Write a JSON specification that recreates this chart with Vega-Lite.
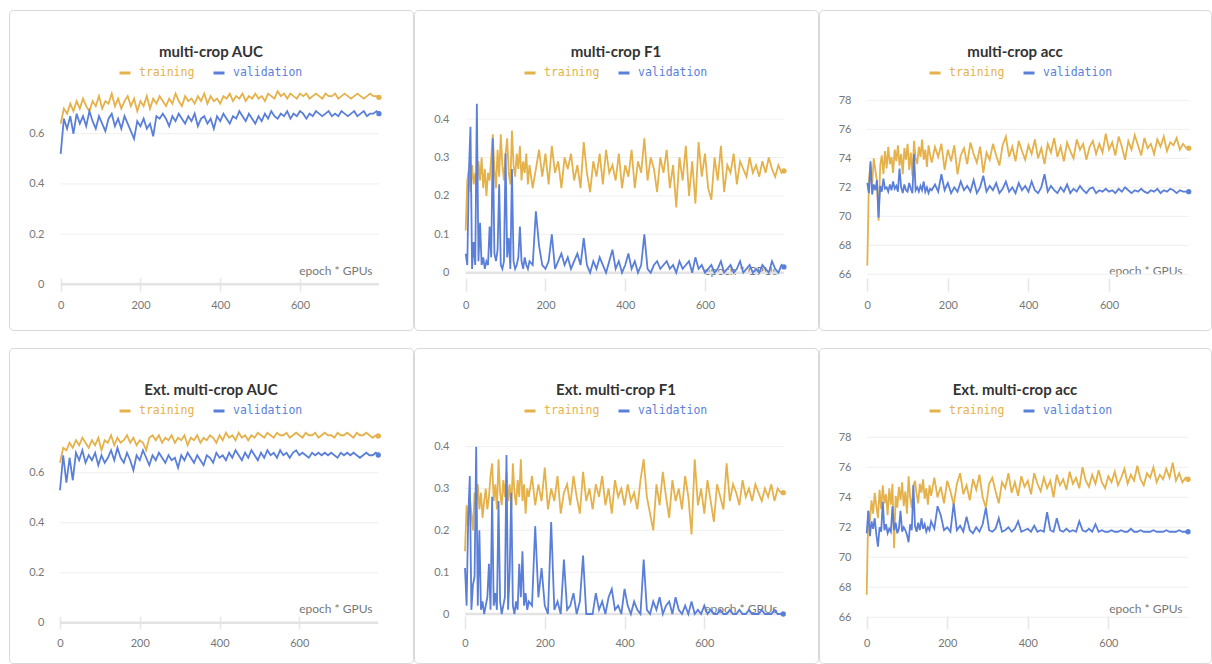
{
"$schema":"https://vega.github.io/schema/vega-lite/v6.json",
"background":"white",
"padding":{"left":8,"top":9,"right":0,"bottom":0},
"spacing":16,
"resolve":{"scale":{"color":"independent"}},
"config":{"font":"Lato","view":{"stroke":"#d9d9d9","strokeWidth":1,"cornerRadius":4},
 "axisX":{"domain":false,"grid":false,"tickSize":13,"tickColor":"#e6e6e6","tickWidth":1.5,"labelPadding":8,"labelColor":"#777777","labelFontSize":11,"labelFont":"Lato","labelFlush":false,"titleAlign":"right","titleBaseline":"bottom","titleFontWeight":"normal","titleFontSize":12,"titleColor":"#777777","titleFont":"Lato","titleX":363,"titleY":-1},
 "axisY":{"domain":false,"grid":false,"ticks":false,"tickSize":0,"labelPadding":5,"labelColor":"#777777","labelFontSize":11,"labelFont":"Lato"},
 "legend":{"orient":"none","legendX":109,"legendY":56,"direction":"horizontal","symbolType":"stroke","symbolSize":121,"symbolStrokeWidth":3,"labelFont":"DejaVu Sans Mono","labelFontSize":11.5,"labelOffset":7,"columnPadding":12}
},
"datasets":{
"auc1":[{"e":0,"t":0.64,"v":0.52},{"e":8,"t":0.70,"v":0.66},{"e":16,"t":0.68,"v":0.62},{"e":24,"t":0.72,"v":0.67},{"e":32,"t":0.69,"v":0.60},{"e":40,"t":0.73,"v":0.68},{"e":48,"t":0.70,"v":0.64},{"e":56,"t":0.74,"v":0.67},{"e":64,"t":0.71,"v":0.63},{"e":72,"t":0.69,"v":0.69},{"e":80,"t":0.73,"v":0.65},{"e":88,"t":0.71,"v":0.62},{"e":96,"t":0.75,"v":0.67},{"e":104,"t":0.70,"v":0.64},{"e":112,"t":0.73,"v":0.61},{"e":120,"t":0.72,"v":0.66},{"e":128,"t":0.76,"v":0.68},{"e":136,"t":0.71,"v":0.63},{"e":144,"t":0.74,"v":0.66},{"e":152,"t":0.70,"v":0.62},{"e":160,"t":0.73,"v":0.67},{"e":168,"t":0.75,"v":0.64},{"e":176,"t":0.71,"v":0.61},{"e":184,"t":0.74,"v":0.58},{"e":192,"t":0.69,"v":0.65},{"e":200,"t":0.73,"v":0.63},{"e":208,"t":0.71,"v":0.66},{"e":216,"t":0.75,"v":0.62},{"e":224,"t":0.70,"v":0.64},{"e":232,"t":0.74,"v":0.59},{"e":240,"t":0.72,"v":0.67},{"e":248,"t":0.75,"v":0.66},{"e":256,"t":0.73,"v":0.68},{"e":264,"t":0.71,"v":0.66},{"e":272,"t":0.74,"v":0.63},{"e":280,"t":0.72,"v":0.67},{"e":288,"t":0.76,"v":0.65},{"e":296,"t":0.73,"v":0.68},{"e":304,"t":0.71,"v":0.66},{"e":312,"t":0.75,"v":0.64},{"e":320,"t":0.73,"v":0.67},{"e":328,"t":0.74,"v":0.65},{"e":336,"t":0.72,"v":0.68},{"e":344,"t":0.75,"v":0.63},{"e":352,"t":0.73,"v":0.66},{"e":360,"t":0.76,"v":0.67},{"e":368,"t":0.72,"v":0.64},{"e":376,"t":0.75,"v":0.66},{"e":384,"t":0.73,"v":0.62},{"e":392,"t":0.74,"v":0.67},{"e":400,"t":0.72,"v":0.65},{"e":408,"t":0.75,"v":0.68},{"e":416,"t":0.74,"v":0.66},{"e":424,"t":0.76,"v":0.64},{"e":432,"t":0.73,"v":0.67},{"e":440,"t":0.75,"v":0.66},{"e":448,"t":0.74,"v":0.69},{"e":456,"t":0.76,"v":0.67},{"e":464,"t":0.73,"v":0.65},{"e":472,"t":0.75,"v":0.68},{"e":480,"t":0.74,"v":0.66},{"e":488,"t":0.76,"v":0.64},{"e":496,"t":0.74,"v":0.67},{"e":504,"t":0.75,"v":0.65},{"e":512,"t":0.73,"v":0.68},{"e":520,"t":0.76,"v":0.66},{"e":528,"t":0.75,"v":0.69},{"e":536,"t":0.74,"v":0.67},{"e":544,"t":0.77,"v":0.66},{"e":552,"t":0.75,"v":0.68},{"e":560,"t":0.76,"v":0.67},{"e":568,"t":0.74,"v":0.69},{"e":576,"t":0.76,"v":0.66},{"e":584,"t":0.75,"v":0.68},{"e":592,"t":0.74,"v":0.67},{"e":600,"t":0.76,"v":0.69},{"e":608,"t":0.75,"v":0.68},{"e":616,"t":0.76,"v":0.66},{"e":624,"t":0.74,"v":0.68},{"e":632,"t":0.75,"v":0.67},{"e":640,"t":0.76,"v":0.69},{"e":648,"t":0.75,"v":0.68},{"e":656,"t":0.74,"v":0.67},{"e":664,"t":0.76,"v":0.68},{"e":672,"t":0.75,"v":0.69},{"e":680,"t":0.75,"v":0.67},{"e":688,"t":0.76,"v":0.68},{"e":696,"t":0.74,"v":0.67},{"e":704,"t":0.75,"v":0.69},{"e":712,"t":0.76,"v":0.68},{"e":720,"t":0.75,"v":0.67},{"e":728,"t":0.74,"v":0.68},{"e":736,"t":0.75,"v":0.69},{"e":744,"t":0.76,"v":0.67},{"e":752,"t":0.75,"v":0.68},{"e":760,"t":0.74,"v":0.69},{"e":768,"t":0.75,"v":0.67},{"e":776,"t":0.76,"v":0.68},{"e":784,"t":0.75,"v":0.68},{"e":792,"t":0.75,"v":0.69},{"e":798,"t":0.745,"v":0.68}],
"f11":[{"e":0,"t":0.11,"v":0.05},{"e":4,"t":0.24,"v":0.02},{"e":8,"t":0.27,"v":0.26},{"e":12,"t":0.21,"v":0.38},{"e":16,"t":0.28,"v":0.01},{"e":20,"t":0.23,"v":0.08},{"e":24,"t":0.26,"v":0.02},{"e":28,"t":0.21,"v":0.44},{"e":32,"t":0.29,"v":0.03},{"e":36,"t":0.24,"v":0.13},{"e":40,"t":0.30,"v":0.02},{"e":44,"t":0.22,"v":0.04},{"e":48,"t":0.27,"v":0.01},{"e":52,"t":0.20,"v":0.03},{"e":56,"t":0.26,"v":0.02},{"e":60,"t":0.24,"v":0.12},{"e":64,"t":0.30,"v":0.04},{"e":68,"t":0.36,"v":0.35},{"e":72,"t":0.27,"v":0.05},{"e":76,"t":0.22,"v":0.03},{"e":80,"t":0.32,"v":0.06},{"e":84,"t":0.25,"v":0.23},{"e":88,"t":0.36,"v":0.02},{"e":92,"t":0.28,"v":0.01},{"e":96,"t":0.24,"v":0.03},{"e":100,"t":0.31,"v":0.31},{"e":104,"t":0.35,"v":0.04},{"e":108,"t":0.26,"v":0.09},{"e":112,"t":0.23,"v":0.01},{"e":116,"t":0.37,"v":0.27},{"e":120,"t":0.28,"v":0.03},{"e":124,"t":0.25,"v":0.01},{"e":128,"t":0.31,"v":0.02},{"e":132,"t":0.27,"v":0.04},{"e":136,"t":0.33,"v":0.12},{"e":140,"t":0.24,"v":0.03},{"e":144,"t":0.29,"v":0.01},{"e":148,"t":0.26,"v":0.04},{"e":152,"t":0.31,"v":0.02},{"e":156,"t":0.23,"v":0.01},{"e":160,"t":0.28,"v":0.03},{"e":168,"t":0.22,"v":0.02},{"e":176,"t":0.27,"v":0.16},{"e":184,"t":0.32,"v":0.07},{"e":192,"t":0.25,"v":0.02},{"e":200,"t":0.31,"v":0.01},{"e":208,"t":0.23,"v":0.03},{"e":216,"t":0.33,"v":0.10},{"e":224,"t":0.26,"v":0.01},{"e":232,"t":0.29,"v":0.03},{"e":240,"t":0.22,"v":0.05},{"e":248,"t":0.30,"v":0.02},{"e":256,"t":0.27,"v":0.04},{"e":264,"t":0.31,"v":0.01},{"e":272,"t":0.24,"v":0.03},{"e":280,"t":0.28,"v":0.05},{"e":288,"t":0.22,"v":0.02},{"e":296,"t":0.34,"v":0.09},{"e":304,"t":0.26,"v":0.02},{"e":312,"t":0.21,"v":0.00},{"e":320,"t":0.29,"v":0.03},{"e":328,"t":0.25,"v":0.01},{"e":336,"t":0.31,"v":0.04},{"e":344,"t":0.23,"v":0.02},{"e":352,"t":0.32,"v":0.00},{"e":360,"t":0.26,"v":0.03},{"e":368,"t":0.28,"v":0.06},{"e":376,"t":0.24,"v":0.01},{"e":384,"t":0.31,"v":0.03},{"e":392,"t":0.22,"v":0.00},{"e":400,"t":0.28,"v":0.02},{"e":408,"t":0.25,"v":0.05},{"e":416,"t":0.32,"v":0.01},{"e":424,"t":0.22,"v":0.03},{"e":432,"t":0.29,"v":0.00},{"e":440,"t":0.26,"v":0.02},{"e":448,"t":0.35,"v":0.10},{"e":456,"t":0.24,"v":0.01},{"e":464,"t":0.30,"v":0.00},{"e":472,"t":0.27,"v":0.02},{"e":480,"t":0.21,"v":0.03},{"e":488,"t":0.30,"v":0.01},{"e":496,"t":0.26,"v":0.02},{"e":504,"t":0.32,"v":0.03},{"e":512,"t":0.22,"v":0.01},{"e":520,"t":0.28,"v":0.02},{"e":528,"t":0.17,"v":0.00},{"e":536,"t":0.30,"v":0.03},{"e":544,"t":0.24,"v":0.01},{"e":552,"t":0.33,"v":0.02},{"e":560,"t":0.20,"v":0.03},{"e":568,"t":0.29,"v":0.00},{"e":576,"t":0.18,"v":0.04},{"e":584,"t":0.34,"v":0.01},{"e":592,"t":0.25,"v":0.02},{"e":600,"t":0.31,"v":0.00},{"e":608,"t":0.22,"v":0.01},{"e":616,"t":0.19,"v":0.02},{"e":624,"t":0.30,"v":0.00},{"e":632,"t":0.24,"v":0.01},{"e":640,"t":0.33,"v":0.03},{"e":648,"t":0.21,"v":0.00},{"e":656,"t":0.28,"v":0.01},{"e":664,"t":0.26,"v":0.02},{"e":672,"t":0.31,"v":0.00},{"e":680,"t":0.23,"v":0.01},{"e":688,"t":0.29,"v":0.03},{"e":696,"t":0.27,"v":0.00},{"e":704,"t":0.25,"v":0.01},{"e":712,"t":0.30,"v":0.02},{"e":720,"t":0.26,"v":0.00},{"e":728,"t":0.28,"v":0.01},{"e":736,"t":0.25,"v":0.00},{"e":744,"t":0.29,"v":0.02},{"e":752,"t":0.26,"v":0.01},{"e":760,"t":0.30,"v":0.00},{"e":768,"t":0.27,"v":0.03},{"e":776,"t":0.25,"v":0.01},{"e":784,"t":0.28,"v":0.00},{"e":792,"t":0.26,"v":0.02},{"e":798,"t":0.265,"v":0.015}],
"acc1":[{"e":0,"t":66.6,"v":72.3},{"e":4,"t":72.5,"v":71.6},{"e":8,"t":73.6,"v":73.8},{"e":12,"t":72.1,"v":71.5},{"e":16,"t":74.0,"v":72.2},{"e":20,"t":73.2,"v":71.8},{"e":24,"t":72.4,"v":72.5},{"e":28,"t":69.7,"v":69.9},{"e":32,"t":73.5,"v":72.1},{"e":36,"t":74.2,"v":71.7},{"e":40,"t":72.9,"v":72.6},{"e":44,"t":74.5,"v":71.9},{"e":48,"t":73.3,"v":72.0},{"e":52,"t":74.8,"v":71.7},{"e":56,"t":73.6,"v":72.2},{"e":60,"t":74.1,"v":71.8},{"e":64,"t":73.0,"v":72.4},{"e":68,"t":74.6,"v":71.9},{"e":72,"t":73.8,"v":72.1},{"e":76,"t":74.9,"v":71.7},{"e":80,"t":73.5,"v":73.3},{"e":84,"t":74.3,"v":72.0},{"e":88,"t":72.9,"v":71.6},{"e":92,"t":74.7,"v":72.2},{"e":96,"t":73.9,"v":71.8},{"e":100,"t":75.0,"v":71.7},{"e":104,"t":73.2,"v":72.3},{"e":108,"t":74.4,"v":71.9},{"e":112,"t":72.8,"v":71.6},{"e":116,"t":75.2,"v":74.3},{"e":120,"t":74.0,"v":71.8},{"e":124,"t":73.6,"v":72.0},{"e":128,"t":74.8,"v":71.7},{"e":132,"t":74.1,"v":72.1},{"e":136,"t":75.3,"v":71.8},{"e":140,"t":73.9,"v":72.4},{"e":144,"t":74.6,"v":71.7},{"e":148,"t":73.4,"v":72.0},{"e":152,"t":74.9,"v":71.6},{"e":156,"t":74.2,"v":71.9},{"e":160,"t":73.7,"v":71.8},{"e":168,"t":74.8,"v":72.2},{"e":176,"t":74.1,"v":71.7},{"e":184,"t":75.0,"v":72.9},{"e":192,"t":73.2,"v":71.8},{"e":200,"t":74.6,"v":72.3},{"e":208,"t":73.8,"v":71.6},{"e":216,"t":74.9,"v":72.0},{"e":224,"t":72.9,"v":71.7},{"e":232,"t":74.2,"v":72.4},{"e":240,"t":74.7,"v":71.8},{"e":248,"t":73.6,"v":72.1},{"e":256,"t":75.1,"v":71.7},{"e":264,"t":74.3,"v":72.5},{"e":272,"t":73.7,"v":71.6},{"e":280,"t":74.8,"v":72.0},{"e":288,"t":73.0,"v":72.8},{"e":296,"t":74.4,"v":71.7},{"e":304,"t":73.9,"v":72.1},{"e":312,"t":75.0,"v":71.8},{"e":320,"t":74.2,"v":72.3},{"e":328,"t":73.5,"v":71.6},{"e":336,"t":74.9,"v":71.9},{"e":344,"t":75.5,"v":72.4},{"e":352,"t":74.1,"v":71.7},{"e":360,"t":74.8,"v":72.0},{"e":368,"t":73.8,"v":71.6},{"e":376,"t":75.2,"v":72.3},{"e":384,"t":74.5,"v":71.8},{"e":392,"t":73.9,"v":72.1},{"e":400,"t":74.9,"v":71.7},{"e":408,"t":74.3,"v":72.4},{"e":416,"t":75.3,"v":71.8},{"e":424,"t":74.0,"v":71.6},{"e":432,"t":74.7,"v":72.0},{"e":440,"t":73.6,"v":72.9},{"e":448,"t":75.0,"v":71.7},{"e":456,"t":74.4,"v":72.1},{"e":464,"t":75.4,"v":71.8},{"e":472,"t":74.1,"v":71.6},{"e":480,"t":74.8,"v":72.0},{"e":488,"t":73.8,"v":71.7},{"e":496,"t":75.1,"v":72.2},{"e":504,"t":74.5,"v":71.6},{"e":512,"t":74.0,"v":71.9},{"e":520,"t":75.3,"v":71.7},{"e":528,"t":74.6,"v":72.1},{"e":536,"t":75.0,"v":71.8},{"e":544,"t":73.9,"v":71.6},{"e":552,"t":74.8,"v":71.9},{"e":560,"t":75.2,"v":72.0},{"e":568,"t":74.3,"v":71.6},{"e":576,"t":75.0,"v":71.8},{"e":584,"t":74.4,"v":71.7},{"e":592,"t":75.7,"v":71.9},{"e":600,"t":74.6,"v":71.7},{"e":608,"t":75.1,"v":71.8},{"e":616,"t":74.2,"v":71.6},{"e":624,"t":75.5,"v":71.9},{"e":632,"t":74.8,"v":71.7},{"e":640,"t":73.9,"v":72.0},{"e":648,"t":75.2,"v":71.8},{"e":656,"t":74.6,"v":71.6},{"e":664,"t":75.6,"v":71.8},{"e":672,"t":74.9,"v":71.7},{"e":680,"t":74.2,"v":71.9},{"e":688,"t":75.4,"v":71.7},{"e":696,"t":74.7,"v":71.6},{"e":704,"t":75.0,"v":71.8},{"e":712,"t":74.3,"v":71.7},{"e":720,"t":75.3,"v":71.9},{"e":728,"t":74.8,"v":71.6},{"e":736,"t":75.5,"v":71.8},{"e":744,"t":74.5,"v":71.7},{"e":752,"t":75.1,"v":71.9},{"e":760,"t":74.9,"v":71.8},{"e":768,"t":75.4,"v":71.6},{"e":776,"t":74.6,"v":71.8},{"e":784,"t":75.0,"v":71.7},{"e":792,"t":74.7,"v":71.7},{"e":798,"t":74.7,"v":71.7}],
"auc2":[{"e":0,"t":0.64,"v":0.53},{"e":8,"t":0.70,"v":0.67},{"e":16,"t":0.69,"v":0.56},{"e":24,"t":0.72,"v":0.66},{"e":32,"t":0.70,"v":0.57},{"e":40,"t":0.73,"v":0.68},{"e":48,"t":0.71,"v":0.65},{"e":56,"t":0.74,"v":0.69},{"e":64,"t":0.72,"v":0.64},{"e":72,"t":0.70,"v":0.67},{"e":80,"t":0.73,"v":0.65},{"e":88,"t":0.71,"v":0.68},{"e":96,"t":0.74,"v":0.63},{"e":104,"t":0.69,"v":0.67},{"e":112,"t":0.73,"v":0.64},{"e":120,"t":0.72,"v":0.66},{"e":128,"t":0.75,"v":0.69},{"e":136,"t":0.71,"v":0.65},{"e":144,"t":0.74,"v":0.70},{"e":152,"t":0.72,"v":0.66},{"e":160,"t":0.73,"v":0.64},{"e":168,"t":0.75,"v":0.68},{"e":176,"t":0.72,"v":0.65},{"e":184,"t":0.74,"v":0.61},{"e":192,"t":0.71,"v":0.67},{"e":200,"t":0.73,"v":0.65},{"e":208,"t":0.72,"v":0.69},{"e":216,"t":0.69,"v":0.66},{"e":224,"t":0.74,"v":0.63},{"e":232,"t":0.75,"v":0.67},{"e":240,"t":0.73,"v":0.65},{"e":248,"t":0.75,"v":0.68},{"e":256,"t":0.72,"v":0.66},{"e":264,"t":0.74,"v":0.64},{"e":272,"t":0.73,"v":0.67},{"e":280,"t":0.75,"v":0.65},{"e":288,"t":0.72,"v":0.66},{"e":296,"t":0.74,"v":0.62},{"e":304,"t":0.73,"v":0.67},{"e":312,"t":0.75,"v":0.65},{"e":320,"t":0.71,"v":0.68},{"e":328,"t":0.74,"v":0.66},{"e":336,"t":0.73,"v":0.64},{"e":344,"t":0.75,"v":0.67},{"e":352,"t":0.72,"v":0.65},{"e":360,"t":0.74,"v":0.63},{"e":368,"t":0.73,"v":0.67},{"e":376,"t":0.75,"v":0.66},{"e":384,"t":0.74,"v":0.64},{"e":392,"t":0.72,"v":0.68},{"e":400,"t":0.75,"v":0.66},{"e":408,"t":0.73,"v":0.67},{"e":416,"t":0.76,"v":0.65},{"e":424,"t":0.74,"v":0.68},{"e":432,"t":0.75,"v":0.66},{"e":440,"t":0.73,"v":0.69},{"e":448,"t":0.76,"v":0.67},{"e":456,"t":0.74,"v":0.65},{"e":464,"t":0.75,"v":0.68},{"e":472,"t":0.73,"v":0.66},{"e":480,"t":0.75,"v":0.69},{"e":488,"t":0.74,"v":0.67},{"e":496,"t":0.76,"v":0.65},{"e":504,"t":0.75,"v":0.68},{"e":512,"t":0.74,"v":0.66},{"e":520,"t":0.76,"v":0.69},{"e":528,"t":0.75,"v":0.67},{"e":536,"t":0.74,"v":0.68},{"e":544,"t":0.76,"v":0.66},{"e":552,"t":0.75,"v":0.69},{"e":560,"t":0.75,"v":0.67},{"e":568,"t":0.76,"v":0.68},{"e":576,"t":0.74,"v":0.66},{"e":584,"t":0.75,"v":0.68},{"e":592,"t":0.76,"v":0.69},{"e":600,"t":0.75,"v":0.67},{"e":608,"t":0.74,"v":0.68},{"e":616,"t":0.76,"v":0.67},{"e":624,"t":0.75,"v":0.66},{"e":632,"t":0.75,"v":0.68},{"e":640,"t":0.76,"v":0.67},{"e":648,"t":0.74,"v":0.68},{"e":656,"t":0.75,"v":0.67},{"e":664,"t":0.76,"v":0.68},{"e":672,"t":0.75,"v":0.67},{"e":680,"t":0.75,"v":0.68},{"e":688,"t":0.74,"v":0.67},{"e":696,"t":0.76,"v":0.66},{"e":704,"t":0.75,"v":0.68},{"e":712,"t":0.75,"v":0.67},{"e":720,"t":0.76,"v":0.68},{"e":728,"t":0.75,"v":0.67},{"e":736,"t":0.74,"v":0.68},{"e":744,"t":0.76,"v":0.67},{"e":752,"t":0.75,"v":0.66},{"e":760,"t":0.75,"v":0.67},{"e":768,"t":0.76,"v":0.68},{"e":776,"t":0.75,"v":0.67},{"e":784,"t":0.74,"v":0.67},{"e":792,"t":0.75,"v":0.68},{"e":798,"t":0.747,"v":0.671}],
"f12":[{"e":0,"t":0.15,"v":0.11},{"e":4,"t":0.26,"v":0.02},{"e":8,"t":0.21,"v":0.23},{"e":12,"t":0.28,"v":0.33},{"e":16,"t":0.24,"v":0.01},{"e":20,"t":0.20,"v":0.07},{"e":24,"t":0.29,"v":0.09},{"e":28,"t":0.26,"v":0.40},{"e":32,"t":0.31,"v":0.02},{"e":36,"t":0.25,"v":0.20},{"e":40,"t":0.29,"v":0.01},{"e":44,"t":0.23,"v":0.03},{"e":48,"t":0.27,"v":0.00},{"e":52,"t":0.30,"v":0.02},{"e":56,"t":0.25,"v":0.04},{"e":60,"t":0.28,"v":0.12},{"e":64,"t":0.33,"v":0.01},{"e":68,"t":0.36,"v":0.28},{"e":72,"t":0.27,"v":0.02},{"e":76,"t":0.31,"v":0.05},{"e":80,"t":0.25,"v":0.01},{"e":84,"t":0.37,"v":0.27},{"e":88,"t":0.29,"v":0.03},{"e":92,"t":0.26,"v":0.00},{"e":96,"t":0.32,"v":0.02},{"e":100,"t":0.28,"v":0.04},{"e":104,"t":0.34,"v":0.38},{"e":108,"t":0.27,"v":0.01},{"e":112,"t":0.31,"v":0.10},{"e":116,"t":0.25,"v":0.29},{"e":120,"t":0.36,"v":0.02},{"e":124,"t":0.29,"v":0.00},{"e":128,"t":0.26,"v":0.03},{"e":132,"t":0.32,"v":0.01},{"e":136,"t":0.28,"v":0.12},{"e":140,"t":0.37,"v":0.04},{"e":144,"t":0.27,"v":0.15},{"e":148,"t":0.31,"v":0.02},{"e":152,"t":0.24,"v":0.05},{"e":156,"t":0.30,"v":0.01},{"e":160,"t":0.28,"v":0.03},{"e":168,"t":0.33,"v":0.02},{"e":176,"t":0.26,"v":0.21},{"e":184,"t":0.31,"v":0.04},{"e":192,"t":0.27,"v":0.11},{"e":200,"t":0.35,"v":0.02},{"e":208,"t":0.25,"v":0.00},{"e":216,"t":0.30,"v":0.22},{"e":224,"t":0.27,"v":0.01},{"e":232,"t":0.33,"v":0.03},{"e":240,"t":0.24,"v":0.00},{"e":248,"t":0.29,"v":0.13},{"e":256,"t":0.31,"v":0.01},{"e":264,"t":0.26,"v":0.02},{"e":272,"t":0.33,"v":0.05},{"e":280,"t":0.28,"v":0.00},{"e":288,"t":0.24,"v":0.03},{"e":296,"t":0.34,"v":0.14},{"e":304,"t":0.27,"v":0.00},{"e":312,"t":0.30,"v":0.00},{"e":320,"t":0.25,"v":0.00},{"e":328,"t":0.31,"v":0.05},{"e":336,"t":0.28,"v":0.01},{"e":344,"t":0.33,"v":0.03},{"e":352,"t":0.26,"v":0.00},{"e":360,"t":0.30,"v":0.04},{"e":368,"t":0.24,"v":0.06},{"e":376,"t":0.32,"v":0.01},{"e":384,"t":0.28,"v":0.02},{"e":392,"t":0.30,"v":0.00},{"e":400,"t":0.26,"v":0.06},{"e":408,"t":0.31,"v":0.02},{"e":416,"t":0.27,"v":0.00},{"e":424,"t":0.29,"v":0.03},{"e":432,"t":0.25,"v":0.01},{"e":440,"t":0.32,"v":0.00},{"e":448,"t":0.37,"v":0.13},{"e":456,"t":0.28,"v":0.01},{"e":464,"t":0.24,"v":0.00},{"e":472,"t":0.20,"v":0.03},{"e":480,"t":0.31,"v":0.01},{"e":488,"t":0.26,"v":0.04},{"e":496,"t":0.34,"v":0.00},{"e":504,"t":0.28,"v":0.02},{"e":512,"t":0.23,"v":0.03},{"e":520,"t":0.32,"v":0.00},{"e":528,"t":0.27,"v":0.04},{"e":536,"t":0.30,"v":0.01},{"e":544,"t":0.25,"v":0.00},{"e":552,"t":0.33,"v":0.02},{"e":560,"t":0.28,"v":0.00},{"e":568,"t":0.19,"v":0.03},{"e":576,"t":0.37,"v":0.00},{"e":584,"t":0.26,"v":0.01},{"e":592,"t":0.30,"v":0.00},{"e":600,"t":0.24,"v":0.02},{"e":608,"t":0.32,"v":0.00},{"e":616,"t":0.27,"v":0.01},{"e":624,"t":0.22,"v":0.00},{"e":632,"t":0.31,"v":0.00},{"e":640,"t":0.28,"v":0.01},{"e":648,"t":0.25,"v":0.00},{"e":656,"t":0.36,"v":0.00},{"e":664,"t":0.27,"v":0.01},{"e":672,"t":0.31,"v":0.00},{"e":680,"t":0.29,"v":0.00},{"e":688,"t":0.26,"v":0.01},{"e":696,"t":0.32,"v":0.00},{"e":704,"t":0.28,"v":0.00},{"e":712,"t":0.30,"v":0.01},{"e":720,"t":0.27,"v":0.00},{"e":728,"t":0.31,"v":0.00},{"e":736,"t":0.29,"v":0.00},{"e":744,"t":0.27,"v":0.01},{"e":752,"t":0.30,"v":0.00},{"e":760,"t":0.28,"v":0.00},{"e":768,"t":0.31,"v":0.00},{"e":776,"t":0.27,"v":0.01},{"e":784,"t":0.30,"v":0.00},{"e":792,"t":0.29,"v":0.00},{"e":798,"t":0.29,"v":0.00}],
"acc2":[{"e":0,"t":67.5,"v":71.6},{"e":4,"t":73.1,"v":73.1},{"e":8,"t":72.4,"v":71.4},{"e":12,"t":73.8,"v":72.4},{"e":16,"t":72.9,"v":71.9},{"e":20,"t":74.3,"v":72.6},{"e":24,"t":73.4,"v":71.5},{"e":28,"t":72.6,"v":70.7},{"e":32,"t":74.5,"v":72.0},{"e":36,"t":73.2,"v":71.7},{"e":40,"t":74.8,"v":73.7},{"e":44,"t":73.6,"v":71.8},{"e":48,"t":74.2,"v":72.2},{"e":52,"t":72.8,"v":71.6},{"e":56,"t":74.6,"v":71.9},{"e":60,"t":73.5,"v":71.7},{"e":64,"t":74.9,"v":73.4},{"e":68,"t":70.6,"v":71.8},{"e":72,"t":74.1,"v":72.3},{"e":76,"t":73.3,"v":71.6},{"e":80,"t":74.7,"v":71.9},{"e":84,"t":73.8,"v":73.1},{"e":88,"t":75.0,"v":71.7},{"e":92,"t":73.4,"v":72.0},{"e":96,"t":74.4,"v":71.8},{"e":100,"t":72.9,"v":71.5},{"e":104,"t":75.4,"v":71.0},{"e":108,"t":74.0,"v":72.2},{"e":112,"t":73.3,"v":71.8},{"e":116,"t":74.8,"v":74.8},{"e":120,"t":75.1,"v":72.1},{"e":124,"t":74.2,"v":71.7},{"e":128,"t":73.6,"v":72.3},{"e":132,"t":74.9,"v":71.8},{"e":136,"t":74.3,"v":72.6},{"e":140,"t":75.2,"v":71.9},{"e":144,"t":73.9,"v":72.2},{"e":148,"t":74.6,"v":71.7},{"e":152,"t":73.5,"v":72.0},{"e":156,"t":74.8,"v":71.8},{"e":160,"t":74.1,"v":72.4},{"e":168,"t":75.3,"v":71.9},{"e":176,"t":74.0,"v":73.4},{"e":184,"t":74.7,"v":72.8},{"e":192,"t":73.6,"v":71.8},{"e":200,"t":75.1,"v":72.0},{"e":208,"t":74.4,"v":71.7},{"e":216,"t":73.5,"v":73.6},{"e":224,"t":74.9,"v":71.8},{"e":232,"t":75.6,"v":72.1},{"e":240,"t":74.2,"v":71.7},{"e":248,"t":74.8,"v":72.7},{"e":256,"t":73.8,"v":71.8},{"e":264,"t":75.2,"v":71.6},{"e":272,"t":74.5,"v":72.0},{"e":280,"t":75.5,"v":71.7},{"e":288,"t":74.0,"v":72.2},{"e":296,"t":73.3,"v":73.3},{"e":304,"t":74.9,"v":71.8},{"e":312,"t":75.3,"v":71.7},{"e":320,"t":74.4,"v":71.9},{"e":328,"t":73.6,"v":72.6},{"e":336,"t":75.0,"v":71.7},{"e":344,"t":74.6,"v":71.8},{"e":352,"t":75.6,"v":72.0},{"e":360,"t":74.3,"v":71.7},{"e":368,"t":75.0,"v":71.9},{"e":376,"t":74.1,"v":72.4},{"e":384,"t":75.4,"v":71.7},{"e":392,"t":74.7,"v":71.8},{"e":400,"t":75.1,"v":71.9},{"e":408,"t":74.2,"v":71.7},{"e":416,"t":75.6,"v":72.1},{"e":424,"t":74.9,"v":71.7},{"e":432,"t":74.4,"v":71.8},{"e":440,"t":75.3,"v":71.7},{"e":448,"t":74.6,"v":73.0},{"e":456,"t":75.1,"v":71.8},{"e":464,"t":74.0,"v":71.7},{"e":472,"t":75.5,"v":72.6},{"e":480,"t":74.8,"v":71.8},{"e":488,"t":75.2,"v":71.7},{"e":496,"t":74.5,"v":71.9},{"e":504,"t":75.7,"v":71.7},{"e":512,"t":74.9,"v":71.8},{"e":520,"t":75.3,"v":71.7},{"e":528,"t":74.6,"v":72.4},{"e":536,"t":76.0,"v":71.8},{"e":544,"t":75.1,"v":71.7},{"e":552,"t":74.7,"v":71.9},{"e":560,"t":75.5,"v":71.7},{"e":568,"t":74.9,"v":72.2},{"e":576,"t":75.8,"v":71.7},{"e":584,"t":75.0,"v":71.8},{"e":592,"t":74.6,"v":71.7},{"e":600,"t":75.4,"v":71.7},{"e":608,"t":75.0,"v":71.8},{"e":616,"t":75.7,"v":71.7},{"e":624,"t":74.8,"v":71.7},{"e":632,"t":75.3,"v":71.8},{"e":640,"t":75.9,"v":71.7},{"e":648,"t":74.9,"v":71.7},{"e":656,"t":75.5,"v":71.9},{"e":664,"t":75.1,"v":71.7},{"e":672,"t":76.1,"v":71.7},{"e":680,"t":75.2,"v":71.8},{"e":688,"t":74.8,"v":71.7},{"e":696,"t":75.6,"v":71.7},{"e":704,"t":75.3,"v":71.7},{"e":712,"t":76.0,"v":71.8},{"e":720,"t":75.0,"v":71.7},{"e":728,"t":75.5,"v":71.7},{"e":736,"t":75.2,"v":71.7},{"e":744,"t":75.9,"v":71.8},{"e":752,"t":75.3,"v":71.7},{"e":760,"t":76.3,"v":71.7},{"e":768,"t":75.1,"v":71.7},{"e":776,"t":75.6,"v":71.8},{"e":784,"t":75.0,"v":71.7},{"e":792,"t":75.3,"v":71.7},{"e":798,"t":75.2,"v":71.7}]
},
"vconcat":[
{"hconcat":[
{"width":404,"height":320,
 "title":{"text":"multi-crop AUC","offset":-57,"baseline":"middle","anchor":"middle","frame":"group","fontSize":15,"fontWeight":"bold","font":"Lato","color":"#333333"},
 "layer":[
  {"data":{"values":[{"g":0.2},{"g":0.4},{"g":0.6}]},"mark":{"type":"rule","color":"#efefef","strokeWidth":1},"encoding":{"x":{"datum":0,"type":"quantitative","scale":{"domain":[-129.6,883.4],"nice":false,"zero":false},"axis":{"values":[0,200,400,600],"offset":-52,"title":"epoch * GPUs"}},"x2":{"datum":798},"y":{"field":"g","type":"quantitative","scale":{"domain":[-0.182,1.093],"nice":false,"zero":false},"axis":{"values":[0,0.2,0.4,0.6],"format":"~g","offset":-40,"title":null}}}},
  {"data":{"values":[{"g":0}]},"mark":{"type":"rule","color":"#e3e3e3","strokeWidth":2.5},"encoding":{"x":{"datum":0,"type":"quantitative","axis":{"values":[0,200,400,600],"offset":-52,"title":"epoch * GPUs"}},"x2":{"datum":798},"y":{"field":"g","type":"quantitative","axis":{"values":[0,0.2,0.4,0.6],"format":"~g","offset":-40,"title":null}}}},
  {"data":{"name":"auc1"},"transform":[{"fold":["t","v"],"as":["s","y"]}],"mark":{"type":"line","strokeWidth":1.8},
   "encoding":{"x":{"field":"e","type":"quantitative","axis":{"values":[0,200,400,600],"offset":-52,"title":"epoch * GPUs"}},
    "y":{"field":"y","type":"quantitative","axis":{"values":[0,0.2,0.4,0.6],"format":"~g","offset":-40,"title":null}},
    "color":{"field":"s","type":"nominal","scale":{"domain":["t","v"],"range":["#E5B14A","#5A7FD9"]},"legend":{"title":null,"labelExpr":"datum.value == 't' ? 'training' : 'validation'","encode":{"labels":{"update":{"fill":{"signal":"datum.value == 't' ? '#E5B14A' : '#5A7FD9'"}}}}}}}},
  {"data":{"name":"auc1"},"transform":[{"filter":"datum.e == 798"},{"fold":["t","v"],"as":["s","y"]}],"mark":{"type":"circle","size":28,"opacity":1},"encoding":{"x":{"field":"e","type":"quantitative","axis":{"values":[0,200,400,600],"offset":-52,"title":"epoch * GPUs"}},"y":{"field":"y","type":"quantitative","axis":{"values":[0,0.2,0.4,0.6],"format":"~g","offset":-40,"title":null}},"color":{"field":"s","type":"nominal"}}}
 ]},
{"width":404,"height":320,
 "title":{"text":"multi-crop F1","offset":-57,"baseline":"middle","anchor":"middle","frame":"group","fontSize":15,"fontWeight":"bold","font":"Lato","color":"#333333"},
 "layer":[
  {"data":{"values":[{"g":0.1},{"g":0.2},{"g":0.3},{"g":0.4}]},"mark":{"type":"rule","color":"#efefef","strokeWidth":1},"encoding":{"x":{"datum":0,"type":"quantitative","scale":{"domain":[-129.6,883.4],"nice":false,"zero":false},"axis":{"values":[0,200,400,600],"offset":-52,"title":"epoch * GPUs"}},"x2":{"datum":798},"y":{"field":"g","type":"quantitative","scale":{"domain":[-0.1491,0.6838],"nice":false,"zero":false},"axis":{"values":[0,0.1,0.2,0.3,0.4],"format":"~g","offset":-40,"title":null}}}},
  {"data":{"values":[{"g":0}]},"mark":{"type":"rule","color":"#e3e3e3","strokeWidth":2.5},"encoding":{"x":{"datum":0,"type":"quantitative","axis":{"values":[0,200,400,600],"offset":-52,"title":"epoch * GPUs"}},"x2":{"datum":798},"y":{"field":"g","type":"quantitative","axis":{"values":[0,0.1,0.2,0.3,0.4],"format":"~g","offset":-40,"title":null}}}},
  {"data":{"name":"f11"},"transform":[{"fold":["t","v"],"as":["s","y"]}],"mark":{"type":"line","strokeWidth":1.8},
   "encoding":{"x":{"field":"e","type":"quantitative","axis":{"values":[0,200,400,600],"offset":-52,"title":"epoch * GPUs"}},
    "y":{"field":"y","type":"quantitative","axis":{"values":[0,0.1,0.2,0.3,0.4],"format":"~g","offset":-40,"title":null}},
    "color":{"field":"s","type":"nominal","scale":{"domain":["t","v"],"range":["#E5B14A","#5A7FD9"]},"legend":{"title":null,"labelExpr":"datum.value == 't' ? 'training' : 'validation'","encode":{"labels":{"update":{"fill":{"signal":"datum.value == 't' ? '#E5B14A' : '#5A7FD9'"}}}}}}}},
  {"data":{"name":"f11"},"transform":[{"filter":"datum.e == 798"},{"fold":["t","v"],"as":["s","y"]}],"mark":{"type":"circle","size":28,"opacity":1},"encoding":{"x":{"field":"e","type":"quantitative","axis":{"values":[0,200,400,600],"offset":-52,"title":"epoch * GPUs"}},"y":{"field":"y","type":"quantitative","axis":{"values":[0,0.1,0.2,0.3,0.4],"format":"~g","offset":-40,"title":null}},"color":{"field":"s","type":"nominal"}}}
 ]},
{"width":392,"height":320,
 "title":{"text":"multi-crop acc","offset":-57,"baseline":"middle","anchor":"middle","frame":"group","fontSize":15,"fontWeight":"bold","font":"Lato","color":"#333333"},
 "layer":[
  {"data":{"values":[{"g":66},{"g":68},{"g":70},{"g":72},{"g":74},{"g":76},{"g":78}]},"mark":{"type":"rule","color":"#efefef","strokeWidth":1},"encoding":{"x":{"datum":0,"type":"quantitative","scale":{"domain":[-119.9,853.3],"nice":false,"zero":false},"axis":{"values":[0,200,400,600],"offset":-52,"title":"epoch * GPUs"}},"x2":{"datum":798},"y":{"field":"g","type":"quantitative","scale":{"domain":[62.16,84.23],"nice":false,"zero":false},"axis":{"values":[66,68,70,72,74,76,78],"format":"~g","offset":-37,"title":null}}}},
  {"data":{"name":"acc1"},"transform":[{"fold":["t","v"],"as":["s","y"]}],"mark":{"type":"line","strokeWidth":1.8},
   "encoding":{"x":{"field":"e","type":"quantitative","axis":{"values":[0,200,400,600],"offset":-52,"title":"epoch * GPUs"}},
    "y":{"field":"y","type":"quantitative","axis":{"values":[66,68,70,72,74,76,78],"format":"~g","offset":-37,"title":null}},
    "color":{"field":"s","type":"nominal","scale":{"domain":["t","v"],"range":["#E5B14A","#5A7FD9"]},"legend":{"title":null,"labelExpr":"datum.value == 't' ? 'training' : 'validation'","encode":{"labels":{"update":{"fill":{"signal":"datum.value == 't' ? '#E5B14A' : '#5A7FD9'"}}}}}}}},
  {"data":{"name":"acc1"},"transform":[{"filter":"datum.e == 798"},{"fold":["t","v"],"as":["s","y"]}],"mark":{"type":"circle","size":28,"opacity":1},"encoding":{"x":{"field":"e","type":"quantitative","axis":{"values":[0,200,400,600],"offset":-52,"title":"epoch * GPUs"}},"y":{"field":"y","type":"quantitative","axis":{"values":[66,68,70,72,74,76,78],"format":"~g","offset":-37,"title":null}},"color":{"field":"s","type":"nominal"}}}
 ]}
],"spacing":-1,"resolve":{"scale":{"color":"independent"}}},
{"hconcat":[
{"width":404,"height":315,
 "title":{"text":"Ext. multi-crop AUC","offset":-57,"baseline":"middle","anchor":"middle","frame":"group","fontSize":15,"fontWeight":"bold","font":"Lato","color":"#333333"},
 "layer":[
  {"data":{"values":[{"g":0.2},{"g":0.4},{"g":0.6}]},"mark":{"type":"rule","color":"#efefef","strokeWidth":1},"encoding":{"x":{"datum":0,"type":"quantitative","scale":{"domain":[-127.9,885.1],"nice":false,"zero":false},"axis":{"values":[0,200,400,600],"offset":-47,"title":"epoch * GPUs"}},"x2":{"datum":798},"y":{"field":"g","type":"quantitative","scale":{"domain":[-0.161,1.099],"nice":false,"zero":false},"axis":{"values":[0,0.2,0.4,0.6],"format":"~g","offset":-40,"title":null}}}},
  {"data":{"values":[{"g":0}]},"mark":{"type":"rule","color":"#e3e3e3","strokeWidth":2.5},"encoding":{"x":{"datum":0,"type":"quantitative","axis":{"values":[0,200,400,600],"offset":-47,"title":"epoch * GPUs"}},"x2":{"datum":798},"y":{"field":"g","type":"quantitative","axis":{"values":[0,0.2,0.4,0.6],"format":"~g","offset":-40,"title":null}}}},
  {"data":{"name":"auc2"},"transform":[{"fold":["t","v"],"as":["s","y"]}],"mark":{"type":"line","strokeWidth":1.8},
   "encoding":{"x":{"field":"e","type":"quantitative","axis":{"values":[0,200,400,600],"offset":-47,"title":"epoch * GPUs"}},
    "y":{"field":"y","type":"quantitative","axis":{"values":[0,0.2,0.4,0.6],"format":"~g","offset":-40,"title":null}},
    "color":{"field":"s","type":"nominal","scale":{"domain":["t","v"],"range":["#E5B14A","#5A7FD9"]},"legend":{"title":null,"labelExpr":"datum.value == 't' ? 'training' : 'validation'","encode":{"labels":{"update":{"fill":{"signal":"datum.value == 't' ? '#E5B14A' : '#5A7FD9'"}}}}}}}},
  {"data":{"name":"auc2"},"transform":[{"filter":"datum.e == 798"},{"fold":["t","v"],"as":["s","y"]}],"mark":{"type":"circle","size":28,"opacity":1},"encoding":{"x":{"field":"e","type":"quantitative","axis":{"values":[0,200,400,600],"offset":-47,"title":"epoch * GPUs"}},"y":{"field":"y","type":"quantitative","axis":{"values":[0,0.2,0.4,0.6],"format":"~g","offset":-40,"title":null}},"color":{"field":"s","type":"nominal"}}}
 ]},
{"width":404,"height":315,
 "title":{"text":"Ext. multi-crop F1","offset":-57,"baseline":"middle","anchor":"middle","frame":"group","fontSize":15,"fontWeight":"bold","font":"Lato","color":"#333333"},
 "layer":[
  {"data":{"values":[{"g":0.1},{"g":0.2},{"g":0.3},{"g":0.4}]},"mark":{"type":"rule","color":"#efefef","strokeWidth":1},"encoding":{"x":{"datum":0,"type":"quantitative","scale":{"domain":[-127.9,885.1],"nice":false,"zero":false},"axis":{"values":[0,200,400,600],"offset":-47,"title":"epoch * GPUs"}},"x2":{"datum":798},"y":{"field":"g","type":"quantitative","scale":{"domain":[-0.1171,0.6359],"nice":false,"zero":false},"axis":{"values":[0,0.1,0.2,0.3,0.4],"format":"~g","offset":-40,"title":null}}}},
  {"data":{"values":[{"g":0}]},"mark":{"type":"rule","color":"#e3e3e3","strokeWidth":2.5},"encoding":{"x":{"datum":0,"type":"quantitative","axis":{"values":[0,200,400,600],"offset":-47,"title":"epoch * GPUs"}},"x2":{"datum":798},"y":{"field":"g","type":"quantitative","axis":{"values":[0,0.1,0.2,0.3,0.4],"format":"~g","offset":-40,"title":null}}}},
  {"data":{"name":"f12"},"transform":[{"fold":["t","v"],"as":["s","y"]}],"mark":{"type":"line","strokeWidth":1.8},
   "encoding":{"x":{"field":"e","type":"quantitative","axis":{"values":[0,200,400,600],"offset":-47,"title":"epoch * GPUs"}},
    "y":{"field":"y","type":"quantitative","axis":{"values":[0,0.1,0.2,0.3,0.4],"format":"~g","offset":-40,"title":null}},
    "color":{"field":"s","type":"nominal","scale":{"domain":["t","v"],"range":["#E5B14A","#5A7FD9"]},"legend":{"title":null,"labelExpr":"datum.value == 't' ? 'training' : 'validation'","encode":{"labels":{"update":{"fill":{"signal":"datum.value == 't' ? '#E5B14A' : '#5A7FD9'"}}}}}}}},
  {"data":{"name":"f12"},"transform":[{"filter":"datum.e == 798"},{"fold":["t","v"],"as":["s","y"]}],"mark":{"type":"circle","size":28,"opacity":1},"encoding":{"x":{"field":"e","type":"quantitative","axis":{"values":[0,200,400,600],"offset":-47,"title":"epoch * GPUs"}},"y":{"field":"y","type":"quantitative","axis":{"values":[0,0.1,0.2,0.3,0.4],"format":"~g","offset":-40,"title":null}},"color":{"field":"s","type":"nominal"}}}
 ]},
{"width":392,"height":315,
 "title":{"text":"Ext. multi-crop acc","offset":-57,"baseline":"middle","anchor":"middle","frame":"group","fontSize":15,"fontWeight":"bold","font":"Lato","color":"#333333"},
 "layer":[
  {"data":{"values":[{"g":66},{"g":68},{"g":70},{"g":72},{"g":74},{"g":76},{"g":78}]},"mark":{"type":"rule","color":"#efefef","strokeWidth":1},"encoding":{"x":{"datum":0,"type":"quantitative","scale":{"domain":[-118.4,855.0],"nice":false,"zero":false},"axis":{"values":[0,200,400,600],"offset":-47,"title":"epoch * GPUs"}},"x2":{"datum":798},"y":{"field":"g","type":"quantitative","scale":{"domain":[62.95,83.95],"nice":false,"zero":false},"axis":{"values":[66,68,70,72,74,76,78],"format":"~g","offset":-37,"title":null}}}},
  {"data":{"name":"acc2"},"transform":[{"fold":["t","v"],"as":["s","y"]}],"mark":{"type":"line","strokeWidth":1.8},
   "encoding":{"x":{"field":"e","type":"quantitative","axis":{"values":[0,200,400,600],"offset":-47,"title":"epoch * GPUs"}},
    "y":{"field":"y","type":"quantitative","axis":{"values":[66,68,70,72,74,76,78],"format":"~g","offset":-37,"title":null}},
    "color":{"field":"s","type":"nominal","scale":{"domain":["t","v"],"range":["#E5B14A","#5A7FD9"]},"legend":{"title":null,"labelExpr":"datum.value == 't' ? 'training' : 'validation'","encode":{"labels":{"update":{"fill":{"signal":"datum.value == 't' ? '#E5B14A' : '#5A7FD9'"}}}}}}}},
  {"data":{"name":"acc2"},"transform":[{"filter":"datum.e == 798"},{"fold":["t","v"],"as":["s","y"]}],"mark":{"type":"circle","size":28,"opacity":1},"encoding":{"x":{"field":"e","type":"quantitative","axis":{"values":[0,200,400,600],"offset":-47,"title":"epoch * GPUs"}},"y":{"field":"y","type":"quantitative","axis":{"values":[66,68,70,72,74,76,78],"format":"~g","offset":-37,"title":null}},"color":{"field":"s","type":"nominal"}}}
 ]}
],"spacing":-1,"resolve":{"scale":{"color":"independent"}}}
]
}
